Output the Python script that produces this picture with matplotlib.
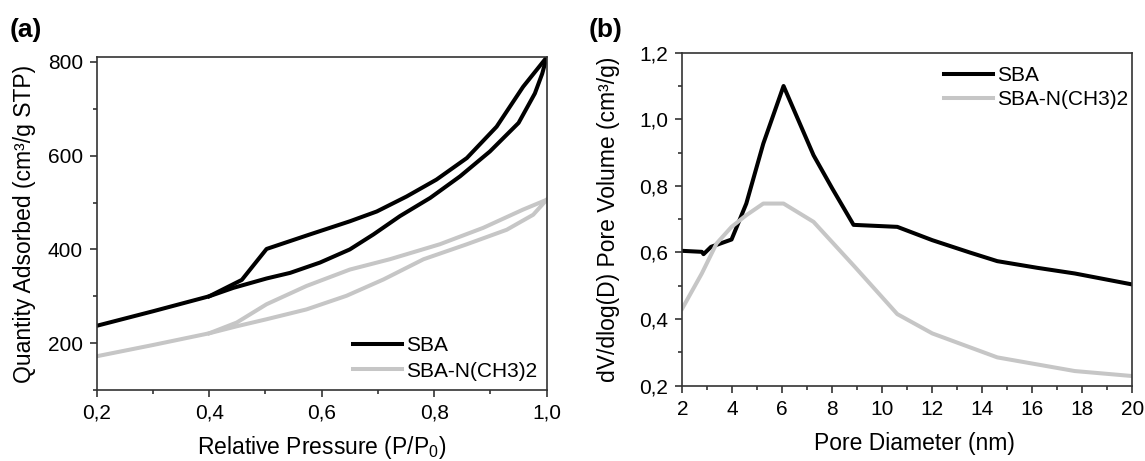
import matplotlib
matplotlib.use("Agg")
import matplotlib.pyplot as plt
from matplotlib.ticker import MultipleLocator

plt.rcParams['font.family'] = ['Liberation Sans', 'DejaVu Sans']
plt.rcParams['mathtext.fontset'] = 'custom'
plt.rcParams['mathtext.rm'] = 'Liberation Sans'

# ---------------- Panel (a): isotherms ----------------
sba_ads_p = [0.2, 0.3, 0.4, 0.443, 0.502, 0.544, 0.597, 0.650, 0.692, 0.739, 0.793,
             0.846, 0.899, 0.950, 0.979, 0.992, 1.0]
sba_ads_q = [237, 268, 300, 318, 338, 350, 372, 400, 432, 471, 510,
             556, 609, 670, 733, 775, 810]
sba_des_p = [1.0, 0.958, 0.911, 0.858, 0.804, 0.751, 0.698, 0.650, 0.579, 0.502,
             0.458, 0.4]
sba_des_q = [810, 747, 662, 595, 549, 513, 481, 460, 432, 401,
             335, 300]

nme_ads_p = [0.2, 0.3, 0.4, 0.449, 0.502, 0.573, 0.644, 0.710, 0.781, 0.858,
             0.929, 0.976, 1.0]
nme_ads_q = [172, 196, 221, 236, 251, 272, 301, 336, 379, 411,
             442, 474, 506]
nme_des_p = [1.0, 0.958, 0.887, 0.810, 0.721, 0.650, 0.573, 0.502, 0.449, 0.4]
nme_des_q = [506, 485, 446, 411, 379, 357, 322, 283, 244, 221]

a_xticks = [0.2, 0.4, 0.6, 0.8, 1.0]
a_xticklabels = ['0,2', '0,4', '0,6', '0,8', '1,0']
a_yticks = [200, 400, 600, 800]
a_yticklabels = ['200', '400', '600', '800']

# ---------------- Panel (b): pore size distribution ----------------
sba_d = [2.0, 2.78, 2.85, 3.15, 3.97, 4.56, 5.24, 6.05, 7.25, 8.0, 8.85,
         10.6, 12.0, 13.5, 14.6, 16.2, 17.7, 20.0]
sba_v = [0.605, 0.602, 0.595, 0.617, 0.639, 0.747, 0.927, 1.100, 0.892, 0.792, 0.683,
         0.677, 0.637, 0.600, 0.574, 0.554, 0.537, 0.504]
nme_d = [2.0, 2.78, 3.37, 3.97, 4.56, 5.24, 6.05, 7.25, 8.9, 10.6,
         12.0, 14.6, 17.7, 20.0]
nme_v = [0.432, 0.537, 0.627, 0.677, 0.712, 0.747, 0.747, 0.692, 0.557, 0.415,
         0.357, 0.285, 0.244, 0.229]

b_xticks = [2, 4, 6, 8, 10, 12, 14, 16, 18, 20]
b_xticklabels = ['2', '4', '6', '8', '10', '12', '14', '16', '18', '20']
b_yticks = [0.2, 0.4, 0.6, 0.8, 1.0, 1.2]
b_yticklabels = ['0,2', '0,4', '0,6', '0,8', '1,0', '1,2']

labels = ['SBA', 'SBA-N(CH3)2']
colors = ['#000000', '#c6c6c6']

W, H = 1145, 461
fig = plt.figure(figsize=(W / 100, H / 100), dpi=100)
axa = fig.add_axes([96.7 / W, 1 - 390 / H, 450 / W, 332.7 / H])
axb = fig.add_axes([682.3 / W, 1 - 385.7 / H, 450 / W, 333 / H])

lw = 2.9
LBL = 16.5
TCK = 15
LEG = 15

axa.plot(sba_ads_p, sba_ads_q, color=colors[0], lw=lw, label=labels[0])
axa.plot(sba_des_p, sba_des_q, color=colors[0], lw=lw)
axa.plot(nme_ads_p, nme_ads_q, color=colors[1], lw=lw, label=labels[1])
axa.plot(nme_des_p, nme_des_q, color=colors[1], lw=lw)
axa.set_xlim(0.2, 1.0)
axa.set_ylim(100, 810)
axa.set_xticks(a_xticks)
axa.set_xticklabels(a_xticklabels)
axa.set_yticks(a_yticks)
axa.set_yticklabels(a_yticklabels)
axa.xaxis.set_minor_locator(MultipleLocator(0.1))
axa.yaxis.set_minor_locator(MultipleLocator(100))
axa.set_xlabel('Relative Pressure (P/P$_0$)', fontsize=LBL)
axa.set_ylabel('Quantity Adsorbed (cm³/g STP)', fontsize=LBL)
axa.xaxis.set_label_coords(0.5, -0.132)
axa.yaxis.set_label_coords(-0.135, 0.5)
axa.legend(loc='upper left', bbox_to_anchor=(0.5695, 0.161), frameon=False,
           fontsize=LEG, handlelength=2.35, handletextpad=0.2, labelspacing=0.3,
           borderpad=0, borderaxespad=0)

axb.plot(sba_d, sba_v, color=colors[0], lw=lw, label=labels[0])
axb.plot(nme_d, nme_v, color=colors[1], lw=lw, label=labels[1])
axb.set_xlim(2, 20)
axb.set_ylim(0.2, 1.2)
axb.set_xticks(b_xticks)
axb.set_xticklabels(b_xticklabels)
axb.set_yticks(b_yticks)
axb.set_yticklabels(b_yticklabels)
axb.xaxis.set_minor_locator(MultipleLocator(1))
axb.yaxis.set_minor_locator(MultipleLocator(0.1))
axb.set_xlabel('Pore Diameter (nm)', fontsize=LBL)
axb.set_ylabel('dV/dlog(D) Pore Volume (cm³/g)', fontsize=LBL)
axb.xaxis.set_label_coords(0.515, -0.139)
axb.yaxis.set_label_coords(-0.138, 0.5)
axb.legend(loc='upper left', bbox_to_anchor=(0.5815, 0.96), frameon=False,
           fontsize=LEG, handlelength=2.35, handletextpad=0.2, labelspacing=0.25,
           borderpad=0, borderaxespad=0)

for ax in (axa, axb):
    for s in ax.spines.values():
        s.set_color('#333333')
        s.set_linewidth(1.2)
    ax.tick_params(which='major', direction='out', length=5, width=1.2,
                   colors='#333333', labelcolor='black', labelsize=TCK, pad=5)
    ax.tick_params(which='minor', direction='out', length=3, width=1.2,
                   colors='#333333')

fig.text(10 / W, 1 - 30 / H, '(a)', fontsize=19, fontweight='bold', va='center', ha='left')
fig.text(589 / W, 1 - 30 / H, '(b)', fontsize=19, fontweight='bold', va='center', ha='left')

fig.savefig('out.png', dpi=100)
